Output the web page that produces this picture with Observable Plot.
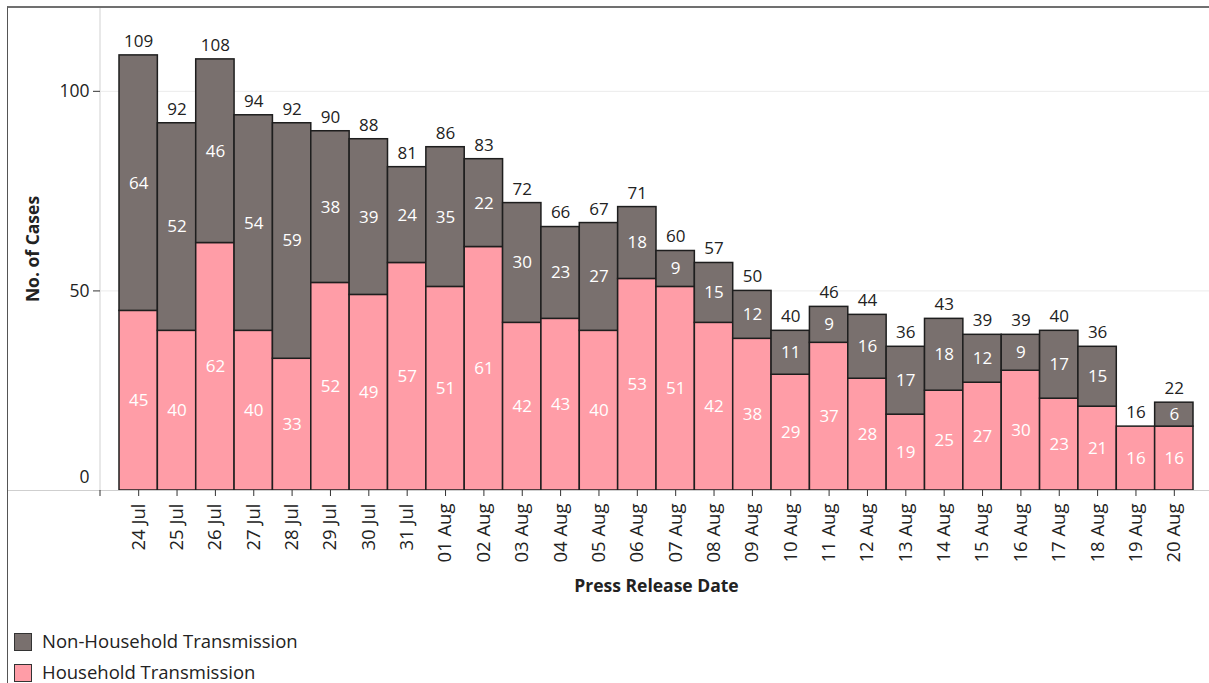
<!DOCTYPE html>
<html>
<head>
<meta charset="utf-8">
<script src="https://cdn.jsdelivr.net/npm/d3@7"></script>
<script src="https://cdn.jsdelivr.net/npm/@observablehq/plot@0.6"></script>
<style>
  html, body { margin: 0; padding: 0; background: #fff; }
  #wrap { position: relative; width: 1209px; height: 683px; overflow: hidden; font-family: "Open Sans", sans-serif; }
  #border { position: absolute; left: 7px; top: 6px; width: 1210px; height: 690px; border-top: 2px solid #707070; border-left: 1.5px solid #555; box-sizing: border-box; pointer-events: none; }
  #chart { position: absolute; left: 0; top: 0; }
  .legend { position: absolute; left: 14px; font-size: 18.5px; color: #222; }
  .legend div { position: absolute; left: 0; height: 20px; white-space: nowrap; }
  .legend span.sw { position: absolute; left: 0; top: 1px; width: 18px; height: 18px; box-sizing: border-box; border: 1.5px solid #333; }
  .legend span.lb { position: absolute; left: 28px; top: -4px; }
</style>
</head>
<body>
<div id="wrap">
  <div id="chart"></div>
  <div id="border"></div>
  <div class="legend" id="legend"></div>
</div>
<script>
const dates = ["24 Jul","25 Jul","26 Jul","27 Jul","28 Jul","29 Jul","30 Jul","31 Jul","01 Aug","02 Aug","03 Aug","04 Aug","05 Aug","06 Aug","07 Aug","08 Aug","09 Aug","10 Aug","11 Aug","12 Aug","13 Aug","14 Aug","15 Aug","16 Aug","17 Aug","18 Aug","19 Aug","20 Aug"];
const household = [45,40,62,40,33,52,49,57,51,61,42,43,40,53,51,42,38,29,37,28,19,25,27,30,23,21,16,16];
const nonHousehold = [64,52,46,54,59,38,39,24,35,22,30,23,27,18,9,15,12,11,9,16,17,18,12,9,17,15,0,6];
const totals = [109,92,108,94,92,90,88,81,86,83,72,66,67,71,60,57,50,40,46,44,36,43,39,39,40,36,16,22];
const seriesNames = ["Non-Household Transmission","Household Transmission"];
const seriesColors = ["#79706e","#ff9da7"];
const yTicks = [50, 100];

const rows = [];
const inner = [];
dates.forEach((d, i) => {
  rows.push({date: d, series: "Household Transmission", value: household[i]});
  rows.push({date: d, series: "Non-Household Transmission", value: nonHousehold[i]});
  if (household[i] > 0) inner.push({date: d, value: household[i], mid: household[i] / 2});
  if (nonHousehold[i] > 0) inner.push({date: d, value: nonHousehold[i], mid: household[i] + nonHousehold[i] / 2});
});
const totalRows = dates.map((d, i) => ({date: d, total: totals[i]}));

const FONT = "'Open Sans', sans-serif";
const gap = 19;

const plot = Plot.plot({
  width: 1209,
  height: 683,
  marginTop: 7,
  marginBottom: 193,
  marginLeft: 119,
  marginRight: 16,
  style: {fontFamily: FONT, fontSize: "17px", color: "#222", background: "transparent"},
  x: {domain: dates, padding: 0, round: false, axis: null},
  y: {domain: [0, 121], axis: null},
  color: {domain: seriesNames, range: seriesColors},
  marks: [
    Plot.ruleY(yTicks, {stroke: "#ebebeb", strokeWidth: 1, insetLeft: -gap, insetRight: -16}),
    Plot.barY(rows.filter(d => d.value > 0), {
      x: "date", y: "value", fill: "series", z: "series",
      order: ["Household Transmission", "Non-Household Transmission"],
      stroke: "#1e1e1e", strokeWidth: 1.5
    }),
    Plot.ruleY([0], {stroke: "#cfcfcf", strokeWidth: 1.2, insetLeft: -112, insetRight: -16}),
    Plot.text(inner, {x: "date", y: "mid", text: "value", fill: "#fff", fontSize: 17}),
    Plot.text(totalRows, {x: "date", y: "total", text: "total", dy: -14, fill: "#222", fontSize: 17}),
    Plot.axisY(yTicks, {dx: -gap, tickSize: 7, tickPadding: 4, label: null, fontSize: 17.5, fill: "#222", stroke: "#333"}),
    Plot.axisY([0], {dx: -gap, dy: -13, tickSize: 0, tickPadding: 11, label: null, fontSize: 17.5, fill: "#222"}),
    Plot.axisX({tickRotate: -90, tickSize: 6, tickPadding: 7, label: null, fontSize: 18.5, fill: "#222", stroke: "#333"}),
    Plot.text(["No. of Cases"], {frameAnchor: "left", textAnchor: "middle", dx: -86, rotate: -90, text: d => d, fontWeight: "bold", fontSize: 17.5, fill: "#222"}),
    Plot.text(["Press Release Date"], {frameAnchor: "bottom", textAnchor: "middle", dy: 101, text: d => d, fontWeight: "bold", fontSize: 17.5, fill: "#222"})
  ]
});

// y-axis line and its small tick, positioned from the plot's own scales
const xs = plot.scale("x"), ys = plot.scale("y");
const axisX = xs.range[0] - gap;
const svg = d3.select(plot);
svg.insert("line", ":first-child")
  .attr("x1", axisX).attr("x2", axisX)
  .attr("y1", ys.range[1]).attr("y2", ys.range[0])
  .attr("stroke", "#d9d9d9").attr("stroke-width", 1.2);
svg.append("line")
  .attr("x1", axisX).attr("x2", axisX)
  .attr("y1", ys.range[0]).attr("y2", ys.range[0] + 6)
  .attr("stroke", "#333").attr("stroke-width", 1);

document.getElementById("chart").appendChild(plot);

// legend
const legend = document.getElementById("legend");
legend.style.top = "632px";
seriesNames.forEach((name, i) => {
  const item = document.createElement("div");
  item.style.top = (i * 31) + "px";
  const sw = document.createElement("span");
  sw.className = "sw";
  sw.style.background = seriesColors[i];
  const lb = document.createElement("span");
  lb.className = "lb";
  lb.textContent = name;
  item.appendChild(sw);
  item.appendChild(lb);
  legend.appendChild(item);
});
</script>
</body>
</html>
